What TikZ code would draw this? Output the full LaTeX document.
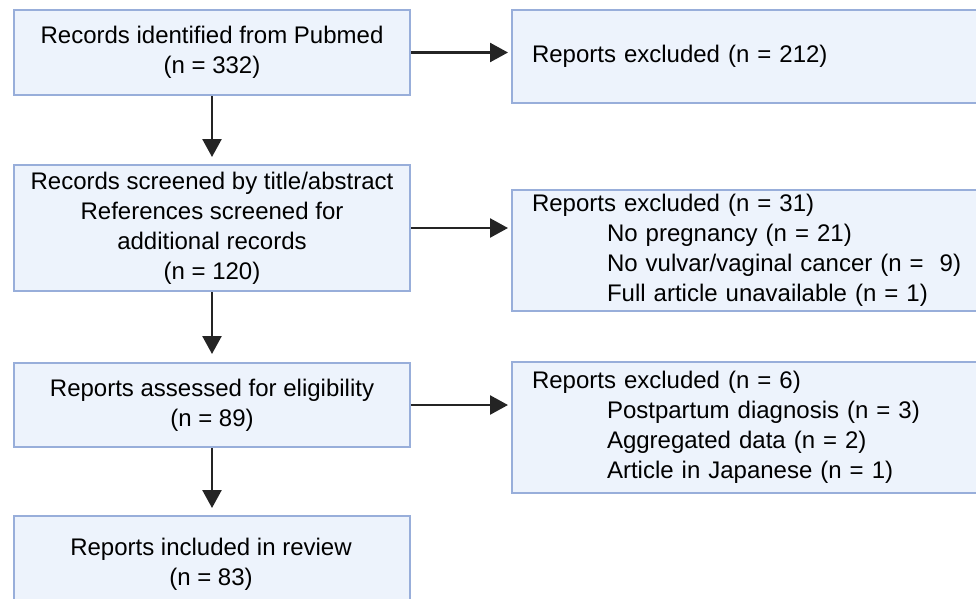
\documentclass[tikz,border=0pt]{standalone}
\usepackage{fontspec}
\setmainfont{Liberation Sans}
\usetikzlibrary{arrows.meta}
\definecolor{boxfill}{HTML}{EDF3FC}
\definecolor{boxline}{HTML}{98AEDA}
\definecolor{arrowcol}{HTML}{242424}
\tikzset{
  box/.style={draw=boxline, fill=boxfill, line width=2pt, rectangle, inner sep=0pt,
    anchor=north west, font=\fontsize{24}{30}\selectfont, align=center},
  rbox/.style={box, align=left, text width=440pt, inner xsep=17pt},
  flow/.style={draw=arrowcol, line width=2.5pt, -{Triangle[length=18pt,width=19pt]}}
}
\begin{document}
\begin{tikzpicture}[x=1pt,y=-1pt]
\useasboundingbox (0,0) rectangle (976,598);
\node[box, minimum width=396pt, minimum height=85pt] (b1) at (13,9)
  {Records identified from Pubmed\\(n = 332)};
\node[rbox, minimum width=480pt, minimum height=93pt] (r1) at (511,9)
  {Reports excluded (n = 212)};
\node[box, minimum width=396pt, minimum height=126pt] (b2) at (13,164)
  {Records screened by title/abstract\\References screened for\\additional records\\(n = 120)};
\node[rbox, minimum width=480pt, minimum height=121pt] (r2) at (511,189)
  {Reports excluded (n = 31)\\
   \hspace*{75pt}No pregnancy (n = 21)\\
   \hspace*{75pt}No vulvar/vaginal cancer (n = \ 9)\\
   \hspace*{75pt}Full article unavailable (n = 1)};
\node[box, minimum width=396pt, minimum height=84pt] (b3) at (13,362)
  {Reports assessed for eligibility\\(n = 89)};
\node[rbox, minimum width=480pt, minimum height=131pt] (r3) at (511,361)
  {Reports excluded (n = 6)\\
   \hspace*{75pt}Postpartum diagnosis (n = 3)\\
   \hspace*{75pt}Aggregated data (n = 2)\\
   \hspace*{75pt}Article in Japanese (n = 1)};
\node[box, minimum width=396pt, minimum height=100pt] (b4) at (13,515)
  {};
\node[font=\fontsize{24}{30}\selectfont, align=center, anchor=north] (b4t) at (211,535)
  {Reports included in review\\(n = 83)};
\draw[flow, shorten >=3pt] (b1.east) -- (b1.east -| r1.west);
\draw[flow, shorten >=3pt] (b2.east) -- (b2.east -| r2.west);
\draw[flow, shorten >=3pt] (b3.east) -- (b3.east -| r3.west);
\draw[flow, shorten >=7pt] (b1.south) -- (b2.north);
\draw[flow, shorten >=8pt] (b2.south) -- (b3.north);
\draw[flow, shorten >=7pt] (b3.south) -- (b4.north);
\end{tikzpicture}
\end{document}
